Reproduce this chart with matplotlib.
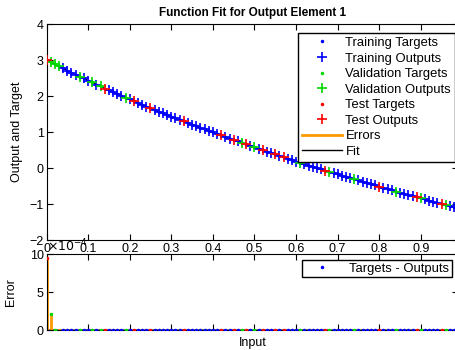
import matplotlib.pyplot as plt

plt.rcParams['font.family'] = ['Liberation Sans', 'DejaVu Sans']

# inputs 0:0.01:0.99
inputs = [i / 100 for i in range(100)]

targets = [
    3.00, 2.94, 2.88, 2.83, 2.77, 2.71, 2.65, 2.60, 2.54, 2.49,
    2.43, 2.38, 2.32, 2.27, 2.21, 2.16, 2.11, 2.06, 2.01, 1.96,
    1.91, 1.86, 1.81, 1.76, 1.71, 1.66, 1.61, 1.57, 1.52, 1.48,
    1.43, 1.39, 1.34, 1.30, 1.25, 1.21, 1.17, 1.12, 1.08, 1.04,
    0.99, 0.95, 0.91, 0.87, 0.82, 0.78, 0.74, 0.70, 0.66, 0.62,
    0.58, 0.54, 0.50, 0.46, 0.42, 0.38, 0.34, 0.30, 0.26, 0.22,
    0.18, 0.14, 0.11, 0.07, 0.04, 0.00, -0.03, -0.07, -0.10, -0.14,
    -0.17, -0.21, -0.24, -0.28, -0.31, -0.34, -0.38, -0.41, -0.45, -0.48,
    -0.52, -0.55, -0.58, -0.62, -0.65, -0.68, -0.72, -0.75, -0.78, -0.81,
    -0.84, -0.87, -0.90, -0.94, -0.97, -1.00, -1.03, -1.06, -1.09, -1.12,
]

# targets - outputs, in units of 1e-4
errors_e4 = [
    9.5, 2.1, 0.05, -0.3, 0.05, 0.05, 0.05, 0.05, 0.05, 0.05,
    0.05, 0.05, 0.05, 0.05, 0.05, 0.05, 0.05, 0.05, 0.05, 0.05,
] + [0.05] * 80

test_idx = [0, 14, 21, 25, 33, 42, 45, 48, 52, 55, 57, 67, 80, 89, 95]
val_idx = [1, 2, 3, 8, 11, 13, 19, 47, 50, 61, 68, 74, 84, 90, 96]
train_idx = [i for i in range(100) if i not in test_idx and i not in val_idx]

errors = [e * 1e-4 for e in errors_e4]
outputs = [t - e for t, e in zip(targets, errors)]

blue, green, red, orange = (0, 0, 1), (0, 0.85, 0), (1, 0, 0), (1, 0.6, 0)
fs = 9

fig = plt.figure(figsize=(4.56, 3.5), dpi=100)
ax = fig.add_axes([0.102, 0.314, 0.903, 0.617])
ax2 = fig.add_axes([0.102, 0.057, 0.903, 0.216])

groups = [(train_idx, blue, 'Training'), (val_idx, green, 'Validation'), (test_idx, red, 'Test')]

ax.plot(inputs, outputs, color='k', lw=1, zorder=1)
handles = []
for idx, c, name in groups:
    xs = [inputs[i] for i in idx]
    h1, = ax.plot(xs, [targets[i] for i in idx], '.', color=c, ms=3, label=name + ' Targets', zorder=2)
    h2, = ax.plot(xs, [outputs[i] for i in idx], '+', color=c, ms=6.5, mew=1.2, label=name + ' Outputs', zorder=3)
    handles += [h1, h2]
h_err, = ax.plot([], [], color=orange, lw=2, label='Errors')
h_fit, = ax.plot([], [], color='k', lw=1, label='Fit')
handles += [h_err, h_fit]

ax.set_xlim(0, 0.99)
ax.set_ylim(-2, 4)
ax.set_xticks([i / 10 for i in range(10)])
ax.set_xticklabels(['0'] + ['%.1f' % (i / 10) for i in range(1, 10)])
ax.set_ylabel('Output and Target', fontsize=fs, labelpad=5)
ax.set_title('Function Fit for Output Element 1', fontsize=8.5, fontweight='bold', pad=6)
ax.tick_params(direction='in', top=True, right=True, labelsize=fs, length=4, pad=2)
ax.legend(handles=handles, loc='upper right', bbox_to_anchor=(455 / 456, 1 - 33 / 350),
          bbox_transform=fig.transFigure, fontsize=9.4, frameon=True, fancybox=False,
          edgecolor='k', framealpha=1, borderpad=0.3, labelspacing=0.26,
          handlelength=3.0, handletextpad=0.3, borderaxespad=0)

ax2.axhline(0, color='0.45', lw=2, zorder=1)
for idx, c, name in groups:
    for i in idx:
        ax2.plot([inputs[i], inputs[i]], [0, errors_e4[i]], color=orange, lw=2, zorder=2)
for idx, c, name in groups:
    ax2.plot([inputs[i] for i in idx], [errors_e4[i] for i in idx], '.', color=c, ms=3, zorder=3)
h_te, = ax2.plot([], [], '.', color=blue, ms=3, label='Targets - Outputs')
ax2.set_xlim(0, 0.99)
ax2.set_ylim(0, 10)
ax2.set_yticks([0, 5, 10])
ax2.set_xticks([i / 10 for i in range(10)])
ax2.set_xticklabels([])
ax2.tick_params(direction='in', top=True, right=True, labelsize=fs, length=4, pad=2)
ax2.set_ylabel('Error', fontsize=fs, labelpad=9)
ax2.set_xlabel('Input', fontsize=fs, labelpad=3)
ax2.text(0.0, 1.0, r'$\times10^{-4}$', transform=ax2.transAxes, fontsize=fs, va='bottom', ha='left')
ax2.legend(handles=[h_te], loc='upper right', bbox_to_anchor=(452 / 456, 1 - 260 / 350),
           bbox_transform=fig.transFigure, fontsize=9.4, frameon=True, fancybox=False,
           edgecolor='k', framealpha=1, borderpad=0.2, handlelength=2.6, borderaxespad=0)

for a in (ax, ax2):
    for s in a.spines.values():
        s.set_linewidth(0.8)

fig.savefig('out.png', dpi=100)
